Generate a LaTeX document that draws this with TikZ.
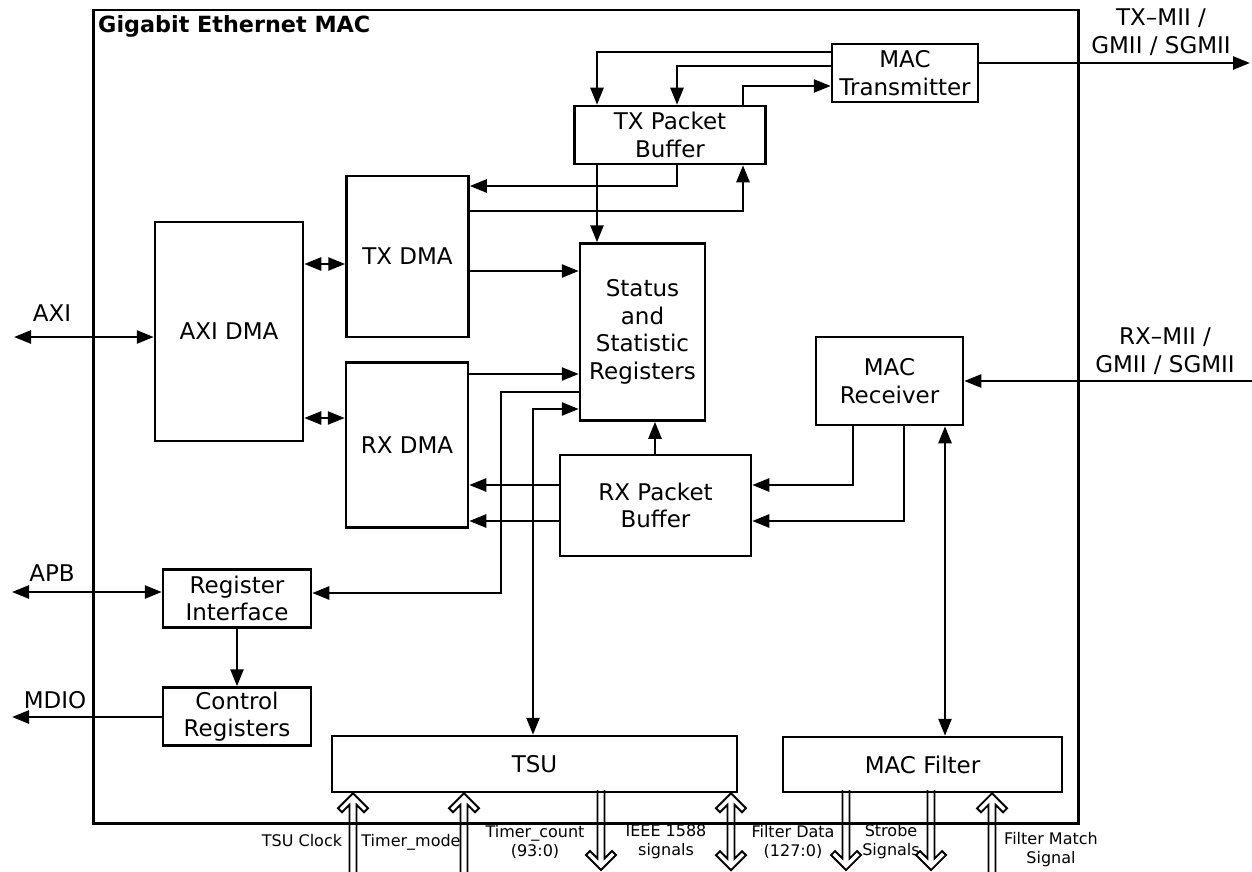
\documentclass[tikz,border=0pt]{standalone}
\usepackage{fontspec}
\setmainfont{DejaVu Sans}
\usetikzlibrary{arrows.meta,calc}
\begin{document}
\begin{tikzpicture}[x=1pt,y=-1pt,
  every node/.style={font=\fontsize{23}{27.5}\selectfont},
  box/.style={draw, line width=2.5pt, align=center, inner sep=0pt, fill=white},
  conn/.style={line width=2.5pt, -{Triangle[length=17pt,width=13pt]}},
  dconn/.style={line width=2.5pt, {Triangle[length=17pt,width=13pt]}-{Triangle[length=17pt,width=13pt]}},
  small/.style={font=\fontsize{16}{19}\selectfont, align=center, inner sep=0pt},
  hollow/.style={line width=1.8pt, line join=miter},
  hup/.pic={\draw[hollow] (-3.5,80) -- (-3.5,11.5) -- (-11,19) -- (-15,15) -- (0,0) -- (15,15) -- (11,19) -- (3.5,11.5) -- (3.5,80);},
  hdown/.pic={\draw[hollow] (-3.5,-80) -- (-3.5,-11.5) -- (-11,-19) -- (-15,-15) -- (0,0) -- (15,-15) -- (11,-19) -- (3.5,-11.5) -- (3.5,-80);},
  hboth/.pic={\draw[hollow] (-3.5,11.5) -- (-11,19) -- (-15,15) -- (0,0) -- (15,15) -- (11,19) -- (3.5,11.5) -- (3.5,65.5) -- (11,58) -- (15,62) -- (0,77) -- (-15,62) -- (-11,58) -- (-3.5,65.5) -- cycle;}
]
\useasboundingbox (0,0) rectangle (1252,872);

% outer block
\node[draw, line width=2.5pt, minimum width=985pt, minimum height=813pt, inner sep=0pt, anchor=north west] (mac) at (92,9) {};
\node[anchor=base west, inner sep=0pt, font=\fontsize{22.3}{27}\selectfont\bfseries] (title) at (98,33) {Gigabit Ethernet MAC};

% blocks
\node[box, minimum width=146pt, minimum height=58pt] (mtx) at (905,73) {MAC\\Transmitter};
\node[box, minimum width=191pt, minimum height=58pt] (txpb) at (670,135) {TX Packet\\Buffer};
\node[box, minimum width=122pt, minimum height=161pt] (txdma) at (407.5,256.5) {TX DMA};
\node[box, minimum width=148pt, minimum height=219pt] (axidma) at (229,331.5) {AXI DMA};
\node[box, minimum width=125pt, minimum height=177pt] (stat) at (642.5,332) {Status\\and\\Statistic\\Registers};
\node[box, minimum width=147pt, minimum height=88pt] (mrx) at (889.5,381) {MAC\\Receiver};
\node[box, minimum width=122pt, minimum height=165pt] (rxdma) at (407,445) {RX DMA};
\node[box, minimum width=191pt, minimum height=101pt] (rxpb) at (655.5,505.5) {RX Packet\\Buffer};
\node[box, minimum width=148pt, minimum height=58pt] (regif) at (237,598.5) {Register\\Interface};
\node[box, minimum width=148pt, minimum height=58pt] (ctrl) at (237,716.5) {Control\\Registers};
\node[box, minimum width=405pt, minimum height=56pt] (tsu) at (534.5,764) {TSU};
\node[box, minimum width=279pt, minimum height=55pt] (mf) at (922.5,764.5) {MAC Filter};

% free ends
\coordinate (axiend) at (14,337);
\coordinate (apbend) at (12,592);
\coordinate (mdioend) at (12,717);
\coordinate (txout) at (1250,63);
\coordinate (rxin) at (1252,381);

% external connectors
\draw[dconn] (axiend) -- (axidma.west |- axiend);
\draw[dconn] (apbend) -- (regif.west |- apbend);
\draw[conn] (ctrl.west |- mdioend) -- (mdioend);
\draw[conn] (mtx.east |- txout) -- (txout);
\draw[conn] (rxin) -- (mrx.east |- rxin);

\node[inner sep=0pt] (axilbl) at (52,313) {AXI};
\node[inner sep=0pt] (apblbl) at (52,573) {APB};
\node[inner sep=0pt] (mdiolbl) at (55,700) {MDIO};
\node[align=center, inner sep=0pt] (txlbl) at (1161,32) {TX–MII /\\GMII / SGMII};
\node[align=center, inner sep=0pt] (rxlbl) at (1165,351) {RX–MII /\\GMII / SGMII};

% internal connectors
\draw[conn] (mtx.west |- 0,52) -| (txpb.north -| 597,0);
\draw[conn] (mtx.west |- 0,66) -| (txpb.north -| 677,0);
\draw[conn] (txpb.north -| 743,0) |- (mtx.west |- 0,86);
\draw[conn] (txpb.south -| 677,0) |- (txdma.east |- 0,186);
\draw[conn] (txdma.east |- 0,211) -| (txpb.south -| 743,0);
\draw[conn] (txpb.south -| 597,0) -- (stat.north -| 597,0);
\draw[conn] (txdma.east |- 0,271) -- (stat.west |- 0,271);
\draw[conn] (rxdma.east |- 0,374) -- (stat.west |- 0,374);
\draw[conn] (stat.west |- 0,392) -- (501,392) |- (regif.east |- 0,593);
\draw[dconn] (tsu.north -| 533,0) |- (stat.west |- 0,409);
\draw[conn] (rxpb.north -| 655,0) -- (stat.south -| 655,0);
\draw[conn] (rxpb.west |- 0,485) -- (rxdma.east |- 0,485);
\draw[conn] (rxpb.west |- 0,521) -- (rxdma.east |- 0,521);
\draw[conn] (mrx.south -| 853,0) |- (rxpb.east |- 0,485);
\draw[conn] (mrx.south -| 904,0) |- (rxpb.east |- 0,521);
\draw[dconn] (mrx.south -| 945,0) -- (mf.north -| 945,0);
\draw[conn] (regif) -- (ctrl);
\draw[dconn] (axidma.east |- 0,264) -- (txdma.west |- 0,264);
\draw[dconn] (axidma.east |- 0,418) -- (rxdma.west |- 0,418);

% hollow signal arrows
\pic at (tsu.south -| 353,0) {hup};
\pic at (tsu.south -| 464,0) {hup};
\pic at (601,870) {hdown};
\pic at (tsu.south -| 731,0) {hboth};
\pic at (846,870) {hdown};
\pic at (931,870) {hdown};
\pic at (mf.south -| 992,0) {hup};

\node[small] (l1) at (302,841) {TSU Clock};
\node[small] (l2) at (411,842) {Timer\_mode};
\node[small] (l3) at (535,842) {Timer\_count\\(93:0)};
\node[small] (l4) at (666,842) {IEEE 1588\\signals};
\node[small] (l5) at (793,842) {Filter Data\\(127:0)};
\node[small] (l6) at (891,842) {Strobe\\Signals};
\node[small] (l7) at (1051,850) {Filter Match\\Signal};
\end{tikzpicture}
\end{document}
